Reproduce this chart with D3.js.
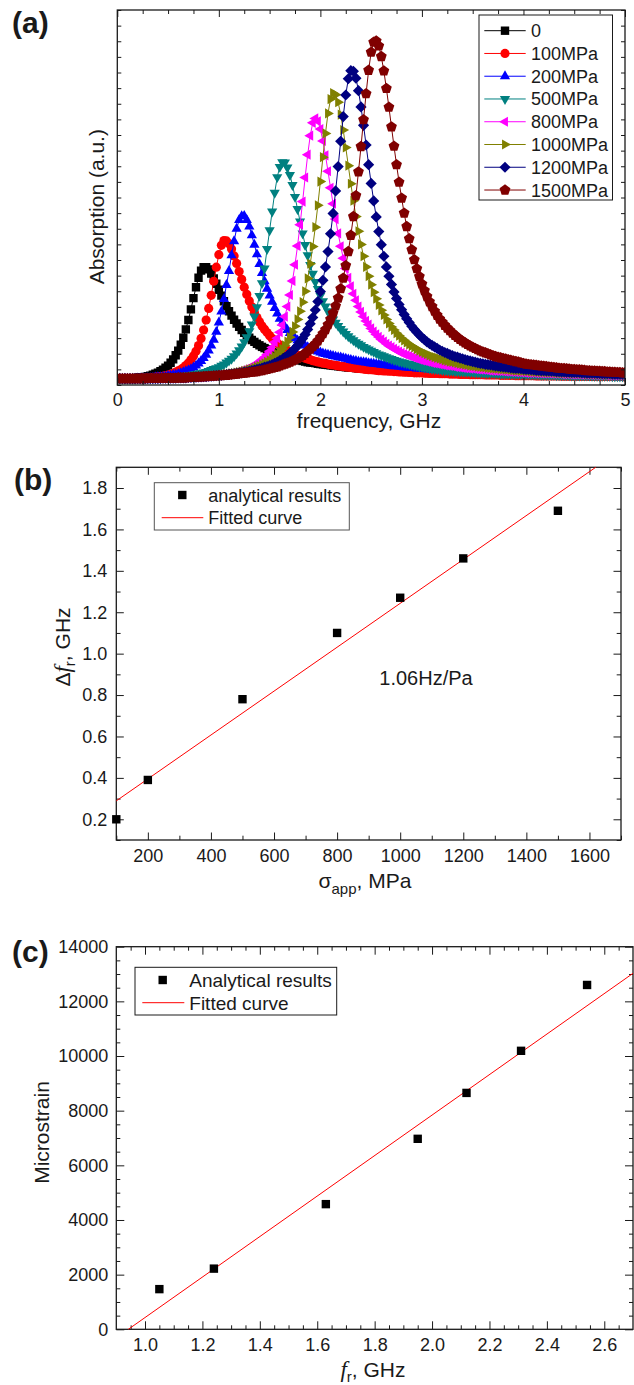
<!DOCTYPE html>
<html>
<head>
<meta charset="utf-8">
<script src="https://cdn.jsdelivr.net/npm/d3@7"></script>
<style>
  body { margin: 0; background: #fff; }
  svg { display: block; }
</style>
</head>
<body>
<svg id="fig" width="634" height="1385"></svg>
<script>
// ---------- (a) absorption spectra, sampled every 0.025 GHz from 0 to 5 GHz (201 points) ----------
const freqStep = 0.025;
const pressureLabels = ["0", "100MPa", "200MPa", "500MPa", "800MPa", "1000MPa", "1200MPa", "1500MPa"];

const abs0 = [
  0, 0, 0, 0, 0.1, 0.1, 0.2, 0.2, 0.3, 0.4, 0.5, 0.6, 0.8, 1.0, 1.3, 1.6, 1.9, 2.4, 2.9, 3.5,
  4.2, 5.1, 6.2, 7.5, 9.0, 10.9, 13.1, 15.8, 18.8, 22.2, 25.8, 29.3, 32.3, 34.6, 35.7, 35.7, 35.0, 33.7, 32.1, 30.4,
  28.5, 26.6, 24.8, 23.2, 21.6, 20.2, 18.9, 17.7, 16.6, 15.6, 14.7, 13.9, 13.1, 12.4, 11.8, 11.2, 10.7, 10.2, 9.8, 9.4,
  9.0, 8.6, 8.3, 8.0, 7.7, 7.4, 7.1, 6.9, 6.7, 6.4, 6.2, 6.0, 5.9, 5.7, 5.5, 5.3, 5.2, 5.1, 5.0, 4.8,
  4.7, 4.6, 4.5, 4.4, 4.3, 4.2, 4.1, 4.0, 3.9, 3.8, 3.7, 3.6, 3.6, 3.5, 3.4, 3.3, 3.3, 3.2, 3.2, 3.1,
  3.1, 3.0, 3.0, 2.9, 2.8, 2.8, 2.8, 2.7, 2.7, 2.6, 2.6, 2.5, 2.5, 2.4, 2.4, 2.3, 2.3, 2.3, 2.3, 2.2,
  2.2, 2.2, 2.2, 2.1, 2.1, 2.0, 2.0, 2.0, 2.0, 1.9, 1.9, 1.9, 1.9, 1.8, 1.8, 1.8, 1.8, 1.7, 1.7, 1.6,
  1.6, 1.6, 1.6, 1.5, 1.5, 1.5, 1.5, 1.4, 1.4, 1.4, 1.4, 1.4, 1.4, 1.3, 1.3, 1.3, 1.3, 1.3, 1.3, 1.2,
  1.2, 1.2, 1.2, 1.2, 1.2, 1.1, 1.1, 1.1, 1.1, 1.1, 1.1, 1.0, 1.0, 1.0, 1.0, 1.0, 1.0, 1.0, 1.0, 0.9,
  0.9, 0.9, 0.9, 0.9, 0.9, 0.9, 0.9, 0.8, 0.8, 0.8, 0.8, 0.8, 0.8, 0.8, 0.8, 0.8, 0.8, 0.7, 0.7, 0.7,
  0.7];
const abs100 = [
  0, 0, 0, 0, 0, 0, 0, 0, 0.1, 0.1, 0.2, 0.2, 0.2, 0.3, 0.4, 0.5, 0.6, 0.7, 0.8, 1.0,
  1.2, 1.4, 1.7, 2.1, 2.5, 2.9, 3.5, 4.2, 5.0, 6.1, 7.3, 8.8, 10.6, 12.9, 15.6, 18.8, 22.5, 26.7, 31.2, 35.7,
  39.7, 42.7, 44.2, 44.1, 43.2, 41.5, 39.3, 36.9, 34.3, 31.8, 29.3, 27.0, 24.9, 23.0, 21.2, 19.6, 18.2, 16.9, 15.8, 14.8,
  13.8, 12.9, 12.1, 11.4, 10.8, 10.2, 9.6, 9.1, 8.7, 8.3, 7.9, 7.5, 7.2, 6.9, 6.6, 6.3, 6.1, 5.8, 5.6, 5.4,
  5.2, 5.0, 4.9, 4.7, 4.5, 4.4, 4.3, 4.1, 4.0, 3.9, 3.8, 3.7, 3.6, 3.5, 3.4, 3.3, 3.2, 3.1, 3.0, 2.9,
  2.9, 2.8, 2.7, 2.6, 2.6, 2.5, 2.5, 2.4, 2.4, 2.3, 2.3, 2.2, 2.2, 2.1, 2.1, 2.0, 2.0, 1.9, 1.9, 1.9,
  1.9, 1.8, 1.8, 1.7, 1.7, 1.7, 1.7, 1.6, 1.6, 1.6, 1.6, 1.5, 1.5, 1.5, 1.5, 1.4, 1.4, 1.4, 1.4, 1.3,
  1.3, 1.3, 1.3, 1.3, 1.3, 1.2, 1.2, 1.2, 1.2, 1.2, 1.2, 1.1, 1.1, 1.1, 1.1, 1.1, 1.1, 1.0, 1.0, 1.0,
  1.0, 1.0, 1.0, 1.0, 1.0, 0.9, 0.9, 0.9, 0.9, 0.9, 0.9, 0.9, 0.9, 0.9, 0.9, 0.8, 0.8, 0.8, 0.8, 0.8,
  0.8, 0.8, 0.8, 0.8, 0.8, 0.8, 0.8, 0.8, 0.7, 0.7, 0.7, 0.7, 0.7, 0.7, 0.7, 0.7, 0.7, 0.7, 0.7, 0.7,
  0.6];
const abs200 = [
  0, 0, 0, 0, 0, 0, 0, 0, 0.1, 0.1, 0.1, 0.1, 0.2, 0.2, 0.3, 0.4, 0.5, 0.5, 0.6, 0.7,
  0.9, 1.0, 1.2, 1.3, 1.5, 1.8, 2.1, 2.4, 2.7, 3.1, 3.6, 4.2, 4.9, 5.7, 6.6, 7.7, 9.0, 10.6, 12.5, 15.0,
  18.0, 21.5, 25.5, 30.0, 34.5, 39.5, 44.0, 48.0, 50.8, 52.0, 52.1, 50.8, 48.7, 45.9, 42.9, 39.8, 36.7, 33.8, 31.2, 28.8,
  26.6, 24.6, 22.6, 20.9, 19.2, 17.9, 16.6, 15.6, 14.6, 13.8, 13.0, 12.3, 11.7, 11.1, 10.6, 10.1, 9.7, 9.3, 9.0, 8.7,
  8.4, 8.1, 7.9, 7.7, 7.5, 7.3, 7.1, 6.9, 6.8, 6.6, 6.4, 6.2, 6.0, 5.8, 5.7, 5.5, 5.4, 5.3, 5.2, 5.0,
  4.9, 4.8, 4.7, 4.6, 4.5, 4.4, 4.3, 4.2, 4.1, 4.0, 4.0, 3.9, 3.8, 3.7, 3.6, 3.5, 3.5, 3.4, 3.3, 3.3,
  3.2, 3.1, 3.0, 3.0, 2.9, 2.8, 2.8, 2.7, 2.7, 2.6, 2.6, 2.5, 2.5, 2.4, 2.4, 2.3, 2.3, 2.2, 2.2, 2.1,
  2.1, 2.0, 2.0, 2.0, 2.0, 1.9, 1.9, 1.8, 1.8, 1.8, 1.8, 1.7, 1.7, 1.7, 1.7, 1.6, 1.6, 1.6, 1.6, 1.5,
  1.5, 1.5, 1.5, 1.4, 1.4, 1.4, 1.4, 1.3, 1.3, 1.3, 1.3, 1.3, 1.3, 1.2, 1.2, 1.2, 1.2, 1.2, 1.2, 1.1,
  1.1, 1.1, 1.1, 1.1, 1.1, 1.0, 1.0, 1.0, 1.0, 1.0, 1.0, 1.0, 1.0, 0.9, 0.9, 0.9, 0.9, 0.9, 0.9, 0.9,
  0.9];
const abs500 = [
  0, 0, 0, 0, 0, 0, 0, 0, 0.1, 0.1, 0.1, 0.1, 0.1, 0.1, 0.2, 0.2, 0.3, 0.3, 0.4, 0.4,
  0.5, 0.5, 0.6, 0.6, 0.7, 0.8, 0.9, 1.0, 1.1, 1.2, 1.4, 1.5, 1.7, 1.8, 2.0, 2.2, 2.5, 2.8, 3.1, 3.4,
  3.7, 4.2, 4.6, 5.2, 5.8, 6.4, 7.2, 8.1, 9.1, 10.3, 11.7, 13.3, 15.2, 17.4, 19.9, 22.9, 26.5, 30.6, 35.3, 41.5,
  47.5, 53.5, 59.5, 64.5, 67.8, 69.3, 69.2, 67.6, 65.2, 62.0, 58.2, 54.3, 50.3, 46.5, 42.8, 39.5, 36.4, 33.6, 31.0, 28.7,
  26.6, 24.8, 23.1, 21.6, 20.2, 19.0, 17.9, 16.9, 15.9, 15.1, 14.3, 13.6, 12.9, 12.3, 11.7, 11.2, 10.7, 10.2, 9.8, 9.4,
  9.0, 8.6, 8.2, 7.8, 7.5, 7.2, 6.9, 6.6, 6.3, 6.0, 5.8, 5.5, 5.3, 5.1, 4.9, 4.7, 4.5, 4.3, 4.1, 3.9,
  3.8, 3.6, 3.5, 3.3, 3.2, 3.1, 3.0, 2.9, 2.8, 2.7, 2.6, 2.5, 2.5, 2.4, 2.4, 2.3, 2.3, 2.2, 2.2, 2.1,
  2.1, 2.0, 2.0, 1.9, 1.9, 1.8, 1.8, 1.8, 1.8, 1.7, 1.7, 1.6, 1.6, 1.6, 1.6, 1.5, 1.5, 1.5, 1.5, 1.4,
  1.4, 1.4, 1.4, 1.3, 1.3, 1.3, 1.3, 1.2, 1.2, 1.2, 1.2, 1.2, 1.2, 1.1, 1.1, 1.1, 1.1, 1.1, 1.1, 1.0,
  1.0, 1.0, 1.0, 1.0, 1.0, 1.0, 1.0, 0.9, 0.9, 0.9, 0.9, 0.9, 0.9, 0.9, 0.9, 0.8, 0.8, 0.8, 0.8, 0.8,
  0.8];
const abs800 = [
  0, 0, 0, 0, 0, 0, 0, 0, 0, 0, 0, 0, 0, 0, 0, 0, 0.1, 0.1, 0.1, 0.1,
  0.1, 0.1, 0.2, 0.2, 0.2, 0.2, 0.3, 0.3, 0.4, 0.4, 0.4, 0.4, 0.5, 0.5, 0.6, 0.7, 0.8, 0.8, 0.9, 1.0,
  1.1, 1.2, 1.3, 1.4, 1.6, 1.7, 1.9, 2.1, 2.4, 2.6, 2.9, 3.2, 3.6, 4.0, 4.4, 4.9, 5.5, 6.2, 6.9, 7.8,
  8.8, 10.0, 11.7, 13.0, 14.9, 17.2, 19.9, 23.1, 26.8, 31.3, 36.5, 42.5, 49.3, 56.7, 64.4, 71.7, 77.8, 81.9, 83.3, 82.4,
  79.9, 76.1, 71.5, 66.4, 61.1, 56.0, 51.1, 46.5, 42.4, 38.6, 35.3, 32.3, 29.6, 27.2, 25.1, 23.1, 21.4, 19.9, 18.5, 17.3,
  16.1, 15.1, 14.2, 13.4, 12.6, 11.9, 11.2, 10.6, 10.1, 9.6, 9.1, 8.7, 8.3, 7.9, 7.6, 7.3, 7.0, 6.7, 6.4, 6.1,
  5.9, 5.7, 5.5, 5.3, 5.1, 4.9, 4.8, 4.6, 4.5, 4.3, 4.2, 4.1, 4.0, 3.8, 3.7, 3.6, 3.5, 3.4, 3.3, 3.2,
  3.2, 3.1, 3.0, 2.9, 2.9, 2.8, 2.7, 2.6, 2.6, 2.5, 2.5, 2.4, 2.4, 2.3, 2.3, 2.2, 2.2, 2.1, 2.1, 2.0,
  2.0, 1.9, 1.9, 1.9, 1.9, 1.8, 1.8, 1.7, 1.7, 1.7, 1.7, 1.6, 1.6, 1.6, 1.6, 1.5, 1.5, 1.5, 1.5, 1.4,
  1.4, 1.4, 1.4, 1.3, 1.3, 1.3, 1.3, 1.2, 1.2, 1.2, 1.2, 1.2, 1.2, 1.1, 1.1, 1.1, 1.1, 1.1, 1.1, 1.1,
  1.1];
const abs1000 = [
  0, 0, 0, 0, 0, 0, 0, 0, 0, 0, 0, 0.1, 0.1, 0.1, 0.1, 0.1, 0.1, 0.1, 0.1, 0.2,
  0.2, 0.2, 0.2, 0.3, 0.3, 0.3, 0.3, 0.4, 0.4, 0.5, 0.5, 0.6, 0.6, 0.7, 0.7, 0.8, 0.8, 0.9, 1.0, 1.1,
  1.2, 1.3, 1.3, 1.5, 1.6, 1.7, 1.8, 2.0, 2.1, 2.3, 2.5, 2.7, 3.0, 3.2, 3.5, 3.8, 4.1, 4.5, 4.9, 5.4,
  5.9, 6.5, 7.1, 7.9, 8.7, 9.6, 10.7, 11.9, 13.3, 15.0, 16.8, 19.0, 21.6, 24.5, 28.0, 32.1, 36.8, 42.3, 48.5, 55.5,
  63.1, 70.9, 78.5, 84.9, 89.5, 91.4, 90.9, 88.5, 84.5, 79.6, 74.0, 68.2, 62.4, 57.0, 51.9, 47.2, 43.0, 39.2, 35.8, 32.8,
  30.1, 27.7, 25.6, 23.6, 21.9, 20.4, 19.0, 17.7, 16.6, 15.6, 14.6, 13.8, 13.0, 12.3, 11.6, 11.0, 10.5, 10.0, 9.5, 9.0,
  8.6, 8.2, 7.9, 7.5, 7.2, 6.9, 6.7, 6.4, 6.2, 5.9, 5.7, 5.5, 5.4, 5.2, 5.0, 4.8, 4.7, 4.5, 4.4, 4.2,
  4.1, 4.0, 3.9, 3.8, 3.7, 3.6, 3.5, 3.4, 3.3, 3.2, 3.2, 3.1, 3.0, 2.9, 2.9, 2.8, 2.7, 2.6, 2.6, 2.5,
  2.5, 2.4, 2.4, 2.3, 2.3, 2.2, 2.2, 2.1, 2.1, 2.0, 2.0, 2.0, 2.0, 1.9, 1.9, 1.8, 1.8, 1.8, 1.8, 1.7,
  1.7, 1.7, 1.7, 1.6, 1.6, 1.5, 1.5, 1.5, 1.5, 1.4, 1.4, 1.4, 1.4, 1.3, 1.3, 1.3, 1.3, 1.3, 1.3, 1.2,
  1.2];
const abs1200 = [
  0, 0, 0, 0, 0, 0, 0, 0, 0, 0, 0, 0, 0.1, 0.1, 0.1, 0.1, 0.1, 0.1, 0.2, 0.2,
  0.2, 0.2, 0.2, 0.2, 0.3, 0.3, 0.3, 0.3, 0.4, 0.4, 0.5, 0.5, 0.6, 0.6, 0.7, 0.7, 0.8, 0.8, 0.9, 1.0,
  1.1, 1.1, 1.2, 1.3, 1.4, 1.5, 1.6, 1.7, 1.8, 1.9, 2.1, 2.2, 2.4, 2.6, 2.8, 3.0, 3.2, 3.4, 3.7, 3.9,
  4.2, 4.5, 4.9, 5.3, 5.8, 6.2, 6.8, 7.4, 8.1, 8.8, 9.7, 10.6, 11.7, 12.9, 14.2, 15.8, 17.6, 19.6, 22.0, 24.7,
  27.9, 31.5, 35.8, 40.7, 46.4, 52.9, 60.1, 67.9, 76.0, 83.9, 90.8, 96.0, 98.6, 98.4, 96.2, 92.2, 87.0, 81.1, 74.8, 68.5,
  62.5, 56.9, 51.8, 47.1, 42.9, 39.2, 35.8, 32.8, 30.2, 27.8, 25.7, 23.8, 22.1, 20.6, 19.2, 18.0, 16.8, 15.8, 14.9, 14.0,
  13.2, 12.5, 11.8, 11.2, 10.7, 10.2, 9.7, 9.2, 8.8, 8.4, 8.1, 7.7, 7.4, 7.1, 6.9, 6.6, 6.4, 6.1, 5.9, 5.7,
  5.5, 5.3, 5.1, 4.9, 4.8, 4.6, 4.5, 4.4, 4.3, 4.1, 4.0, 3.9, 3.8, 3.7, 3.6, 3.5, 3.4, 3.3, 3.3, 3.2,
  3.1, 3.0, 3.0, 2.9, 2.8, 2.7, 2.7, 2.6, 2.6, 2.5, 2.5, 2.4, 2.4, 2.3, 2.3, 2.2, 2.2, 2.1, 2.1, 2.0,
  2.0, 2.0, 2.0, 1.9, 1.9, 1.8, 1.8, 1.8, 1.8, 1.7, 1.7, 1.6, 1.6, 1.6, 1.6, 1.5, 1.5, 1.5, 1.5, 1.5,
  1.5];
const abs1500 = [
  0, 0, 0, 0, 0, 0, 0, 0, 0, 0, 0, 0, 0.1, 0.1, 0.1, 0.1, 0.1, 0.1, 0.2, 0.2,
  0.2, 0.2, 0.2, 0.2, 0.3, 0.3, 0.3, 0.3, 0.4, 0.4, 0.5, 0.5, 0.6, 0.6, 0.7, 0.7, 0.8, 0.8, 0.9, 0.9,
  1.0, 1.0, 1.1, 1.1, 1.2, 1.3, 1.4, 1.5, 1.6, 1.7, 1.8, 1.9, 2.0, 2.1, 2.2, 2.3, 2.5, 2.6, 2.8, 3.0,
  3.2, 3.4, 3.6, 3.8, 4.1, 4.4, 4.7, 5.0, 5.3, 5.7, 6.1, 6.5, 7.0, 7.5, 8.1, 8.8, 9.5, 10.3, 11.1, 12.1,
  13.2, 14.4, 15.7, 17.3, 19.0, 21.0, 23.3, 25.8, 28.8, 32.2, 36.2, 40.7, 45.9, 51.9, 58.6, 66.2, 74.3, 82.9, 91.2, 98.7,
  104.5, 107.7, 108.1, 106.5, 103.1, 98.5, 92.9, 86.9, 80.6, 74.4, 68.5, 62.9, 57.8, 53.0, 48.7, 44.8, 41.3, 38.1, 35.2, 32.7,
  30.3, 28.2, 26.3, 24.6, 23.1, 21.6, 20.3, 19.1, 18.1, 17.1, 16.2, 15.4, 14.6, 13.9, 13.2, 12.6, 12.0, 11.5, 11.0, 10.5,
  10.1, 9.7, 9.3, 8.9, 8.6, 8.3, 8.0, 7.7, 7.4, 7.1, 6.9, 6.7, 6.5, 6.3, 6.1, 5.9, 5.7, 5.5, 5.4, 5.1,
  4.9, 4.7, 4.6, 4.5, 4.4, 4.3, 4.2, 4.1, 4.0, 3.9, 3.8, 3.7, 3.6, 3.5, 3.4, 3.3, 3.3, 3.2, 3.1, 3.0,
  3.0, 2.9, 2.9, 2.8, 2.7, 2.6, 2.6, 2.5, 2.5, 2.4, 2.4, 2.3, 2.3, 2.2, 2.2, 2.1, 2.1, 2.0, 2.0, 1.9,
  1.9];

// ---------- (b) resonance shift vs applied stress ----------
const stressMPa = [100, 200, 500, 800, 1000, 1200, 1500];
const shiftGHz  = [0.20, 0.39, 0.78, 1.10, 1.27, 1.46, 1.69];
const fitStressSlope = 0.00106;      // GHz per MPa (1.06 Hz/Pa)
const fitStressIntercept = 0.183;    // GHz

// ---------- (c) microstrain vs resonance frequency ----------
const resFreqGHz  = [1.05, 1.24, 1.63, 1.95, 2.12, 2.31, 2.54];
const microstrain = [1470, 2220, 4580, 6970, 8650, 10190, 12600];
const fitStrainSlope = 7409;         // microstrain per GHz
const fitStrainIntercept = -6979;

// ---------- styles ----------
const FONT = '"Liberation Sans", Arial, Helvetica, sans-serif';
const SERIF = '"Liberation Serif", "Times New Roman", serif';
const INK = "#1a1a1a";
const seriesColors = ["#000000", "#ff0000", "#0000ff", "#008080", "#ff00ff", "#808000", "#000080", "#800000"];
const seriesShapes = ["square", "circle", "up", "down", "left", "right", "diamond", "pentagon"];

function markerPath(shape) {
  const p = d3.path();
  const poly = pts => { pts.forEach((q, i) => i ? p.lineTo(q[0], q[1]) : p.moveTo(q[0], q[1])); p.closePath(); };
  const R = 5.9, c30 = Math.cos(Math.PI / 6);
  switch (shape) {
    case "square": poly([[-4.2, -4.2], [4.2, -4.2], [4.2, 4.2], [-4.2, 4.2]]); break;
    case "circle": p.moveTo(4.6, 0); p.arc(0, 0, 4.6, 0, 2 * Math.PI); break;
    case "up": poly([[0, -R], [R * c30, R / 2], [-R * c30, R / 2]]); break;
    case "down": poly([[0, R], [R * c30, -R / 2], [-R * c30, -R / 2]]); break;
    case "left": poly([[-R, 0], [R / 2, -R * c30], [R / 2, R * c30]]); break;
    case "right": poly([[R, 0], [-R / 2, -R * c30], [-R / 2, R * c30]]); break;
    case "diamond": poly([[0, -5.6], [5.6, 0], [0, 5.6], [-5.6, 0]]); break;
    case "pentagon": {
      const r = 5.7, pts = [];
      for (let k = 0; k < 5; k++) { const a = -Math.PI / 2 + k * 2 * Math.PI / 5; pts.push([r * Math.cos(a), r * Math.sin(a)]); }
      poly(pts); break;
    }
  }
  return p.toString();
}

const svg = d3.select("#fig");

// Frame with inward ticks on all four sides; labels on bottom and left only.
function drawAxes(g, x, y, o) {
  const [x0, x1] = x.range();
  const [y0, y1] = y.range();
  const mk = (axis, tr) => {
    const a = g.append("g").attr("transform", tr).call(axis);
    a.select(".domain").remove();
    a.selectAll("line").attr("stroke", INK).attr("stroke-width", 1);
    a.selectAll("text").attr("font-family", FONT).attr("font-size", 18).attr("fill", INK);
    return a;
  };
  const noLab = () => "";
  mk(d3.axisBottom(x).tickValues(o.xMinor).tickSize(-o.minorLen).tickSizeOuter(0).tickFormat(noLab), `translate(0,${y0})`);
  mk(d3.axisBottom(x).tickValues(o.xMajor).tickSize(-o.majorLen).tickSizeOuter(0).tickPadding(o.xPad).tickFormat(o.xFmt), `translate(0,${y0})`);
  mk(d3.axisTop(x).tickValues(o.xMinor).tickSize(-o.minorLen).tickSizeOuter(0).tickFormat(noLab), `translate(0,${y1})`);
  mk(d3.axisTop(x).tickValues(o.xMajor).tickSize(-o.majorLen).tickSizeOuter(0).tickFormat(noLab), `translate(0,${y1})`);
  mk(d3.axisLeft(y).tickValues(o.yMinor).tickSize(-o.minorLen).tickSizeOuter(0).tickFormat(noLab), `translate(${x0},0)`);
  mk(d3.axisLeft(y).tickValues(o.yMajor).tickSize(-o.yMajorLen).tickSizeOuter(0).tickPadding(o.yPad).tickFormat(o.yFmt), `translate(${x0},0)`);
  mk(d3.axisRight(y).tickValues(o.yMinor).tickSize(-o.minorLen).tickSizeOuter(0).tickFormat(noLab), `translate(${x1},0)`);
  mk(d3.axisRight(y).tickValues(o.yMajor).tickSize(-o.yMajorLen).tickSizeOuter(0).tickFormat(noLab), `translate(${x1},0)`);
  g.append("rect").attr("x", x0).attr("y", y1).attr("width", x1 - x0).attr("height", y0 - y1)
    .attr("fill", "none").attr("stroke", INK).attr("stroke-width", 1.3);
}

function addText(parent, x, y, str, size, opts = {}) {
  return parent.append("text").attr("x", x).attr("y", y).attr("font-family", opts.family || FONT)
    .attr("font-size", size).attr("font-weight", opts.weight || "normal")
    .attr("text-anchor", opts.anchor || "start").attr("fill", INK).text(str);
}

// ================= Panel (a) =================
const gA = svg.append("g");
const xA = d3.scaleLinear().domain([0, 5]).range([117.3, 625]);
const yA = d3.scaleLinear().domain([-2, 118]).range([385, 10]);
const spectra = [abs0, abs100, abs200, abs500, abs800, abs1000, abs1200, abs1500];
const freqAt = i => i * freqStep;

svg.append("clipPath").attr("id", "clipA").append("rect")
  .attr("x", 117.3).attr("y", 10).attr("width", 625 - 117.3).attr("height", 375);
const plotA = gA.append("g").attr("clip-path", "url(#clipA)");
const lineA = d3.line().x((d, i) => xA(freqAt(i))).y(d => yA(d));

spectra.forEach((vals, k) => {
  const sg = plotA.append("g");
  sg.append("path").attr("d", lineA(vals)).attr("fill", "none")
    .attr("stroke", seriesColors[k]).attr("stroke-width", 1);
  sg.selectAll("path.m").data(vals).join("path").attr("class", "m")
    .attr("transform", (d, i) => `translate(${xA(freqAt(i))},${yA(d)})`)
    .attr("d", markerPath(seriesShapes[k])).attr("fill", seriesColors[k]);
});

drawAxes(gA, xA, yA, {
  xMajor: d3.range(0, 5.01, 1), xMinor: d3.range(0.25, 5, 0.25).filter(v => Math.abs(v - Math.round(v)) > 1e-6),
  yMajor: [], yMinor: d3.range(-2, 118.01, 5),
  majorLen: 7, yMajorLen: 4, minorLen: 4, xPad: 8.2, yPad: 8,
  xFmt: d3.format("d"), yFmt: () => ""
});

// legend (a)
const legA = gA.append("g");
legA.append("rect").attr("x", 479).attr("y", 15).attr("width", 133.5).attr("height", 185)
  .attr("fill", "#fff").attr("stroke", INK).attr("stroke-width", 1);
pressureLabels.forEach((lab, k) => {
  const cy = 30.7 + k * 22.76;
  legA.append("line").attr("x1", 484.3).attr("x2", 525.7).attr("y1", cy).attr("y2", cy)
    .attr("stroke", seriesColors[k]).attr("stroke-width", 1);
  legA.append("path").attr("transform", `translate(505,${cy})`).attr("d", markerPath(seriesShapes[k]))
    .attr("fill", seriesColors[k]);
  addText(legA, 531, cy + 6.5, lab, 18);
});

addText(gA, 369, 428, "frequency, GHz", 21, { anchor: "middle" });
gA.append("text").attr("transform", "translate(103.5,206.7) rotate(-90)").attr("text-anchor", "middle")
  .attr("font-family", FONT).attr("font-size", 21).attr("fill", INK).text("Absorption (a.u.)");
addText(svg, 12, 33, "(a)", 30, { weight: "bold" });

// ================= Panel (b) =================
const gB = svg.append("g");
const xB = d3.scaleLinear().domain([100, 1700]).range([116.3, 621]);
const yB = d3.scaleLinear().domain([0.1, 1.9]).range([840, 467.3]);

drawAxes(gB, xB, yB, {
  xMajor: d3.range(200, 1601, 200), xMinor: d3.range(100, 1701, 200),
  yMajor: d3.range(0.2, 1.81, 0.2), yMinor: d3.range(0.1, 1.91, 0.2),
  majorLen: 7.5, yMajorLen: 7.5, minorLen: 4.3, xPad: 9.5, yPad: 9,
  xFmt: d3.format("d"), yFmt: d3.format(".1f")
});

// fitted straight line, clipped at the top of the frame
const sEnd = (yB.domain()[1] - fitStressIntercept) / fitStressSlope;
gB.append("line")
  .attr("x1", xB(100)).attr("y1", yB(fitStressIntercept + fitStressSlope * 100))
  .attr("x2", xB(sEnd)).attr("y2", yB(fitStressIntercept + fitStressSlope * sEnd))
  .attr("stroke", "#ff0000").attr("stroke-width", 1);
gB.selectAll("path.pt").data(stressMPa).join("path").attr("class", "pt")
  .attr("transform", (d, i) => `translate(${xB(d)},${yB(shiftGHz[i])})`)
  .attr("d", markerPath("square")).attr("fill", "#000");

addText(gB, 379.3, 685, "1.06Hz/Pa", 20);

const legB = gB.append("g");
legB.append("rect").attr("x", 154.3).attr("y", 482.7).attr("width", 195).attr("height", 47.3)
  .attr("fill", "#fff").attr("stroke", "#555").attr("stroke-width", 1);
legB.append("path").attr("transform", "translate(182.3,495)").attr("d", markerPath("square")).attr("fill", "#000");
addText(legB, 208.3, 501.8, "analytical results", 18);
legB.append("line").attr("x1", 161.7).attr("x2", 203.3).attr("y1", 517.7).attr("y2", 517.7)
  .attr("stroke", "#ff0000").attr("stroke-width", 1);
addText(legB, 208.3, 524.2, "Fitted curve", 18);

const txB = gB.append("text").attr("x", 365).attr("y", 888).attr("text-anchor", "middle")
  .attr("font-family", FONT).attr("font-size", 21).attr("fill", INK);
txB.append("tspan").text("σ");
txB.append("tspan").attr("font-size", 15).attr("dy", 6).text("app");
txB.append("tspan").attr("dy", -6).text(", MPa");
const tyB = gB.append("text").attr("transform", "translate(70,647) rotate(-90)").attr("text-anchor", "middle")
  .attr("font-family", FONT).attr("font-size", 21).attr("fill", INK);
tyB.append("tspan").text("Δ");
tyB.append("tspan").attr("font-family", SERIF).attr("font-style", "italic").attr("font-size", 23).text("f");
tyB.append("tspan").attr("font-size", 15).attr("dy", 5).text("r");
tyB.append("tspan").attr("dy", -5).text(", GHz");
addText(svg, 14, 490.4, "(b)", 30, { weight: "bold" });

// ================= Panel (c) =================
const gC = svg.append("g");
const xC = d3.scaleLinear().domain([0.9, 2.7]).range([116.3, 633]);
const yC = d3.scaleLinear().domain([0, 14000]).range([1329.3, 946.7]);

drawAxes(gC, xC, yC, {
  xMajor: d3.range(1.0, 2.61, 0.2),
  xMinor: d3.range(0.95, 2.7, 0.05).filter(v => Math.abs((v - 1.0) / 0.2 - Math.round((v - 1.0) / 0.2)) > 1e-6),
  yMajor: d3.range(0, 14001, 2000), yMinor: d3.range(500, 14000, 500).filter(v => v % 2000 !== 0),
  majorLen: 8, yMajorLen: 8, minorLen: 4, xPad: 8.6, yPad: 8,
  xFmt: d3.format(".1f"), yFmt: d3.format("d")
});

const fStart = -fitStrainIntercept / fitStrainSlope;
const fEnd = xC.domain()[1];
gC.append("line")
  .attr("x1", xC(fStart)).attr("y1", yC(fitStrainSlope * fStart + fitStrainIntercept))
  .attr("x2", xC(fEnd)).attr("y2", yC(fitStrainSlope * fEnd + fitStrainIntercept))
  .attr("stroke", "#ff0000").attr("stroke-width", 1);
gC.selectAll("path.pt").data(resFreqGHz).join("path").attr("class", "pt")
  .attr("transform", (d, i) => `translate(${xC(d)},${yC(microstrain[i])})`)
  .attr("d", markerPath("square")).attr("fill", "#000");

const legC = gC.append("g");
legC.append("rect").attr("x", 135).attr("y", 967.3).attr("width", 201.7).attr("height", 47.7)
  .attr("fill", "#fff").attr("stroke", INK).attr("stroke-width", 1);
legC.append("path").attr("transform", "translate(162.7,980)").attr("d", markerPath("square")).attr("fill", "#000");
addText(legC, 189.3, 986.8, "Analytical results", 19);
legC.append("line").attr("x1", 142.3).attr("x2", 184.3).attr("y1", 1002.7).attr("y2", 1002.7)
  .attr("stroke", "#ff0000").attr("stroke-width", 1);
addText(legC, 189.3, 1009.5, "Fitted curve", 19);

const txC = gC.append("text").attr("x", 373).attr("y", 1377).attr("text-anchor", "middle")
  .attr("font-family", FONT).attr("font-size", 21).attr("fill", INK);
txC.append("tspan").attr("font-family", SERIF).attr("font-style", "italic").attr("font-size", 23).text("f");
txC.append("tspan").attr("font-size", 15).attr("dy", 5).text("r");
txC.append("tspan").attr("dy", -5).text(", GHz");
gC.append("text").attr("transform", "translate(49.3,1132.5) rotate(-90)").attr("text-anchor", "middle")
  .attr("font-family", FONT).attr("font-size", 21).attr("fill", INK).text("Microstrain");
addText(svg, 12, 962, "(c)", 30, { weight: "bold" });
</script>
</body>
</html>
